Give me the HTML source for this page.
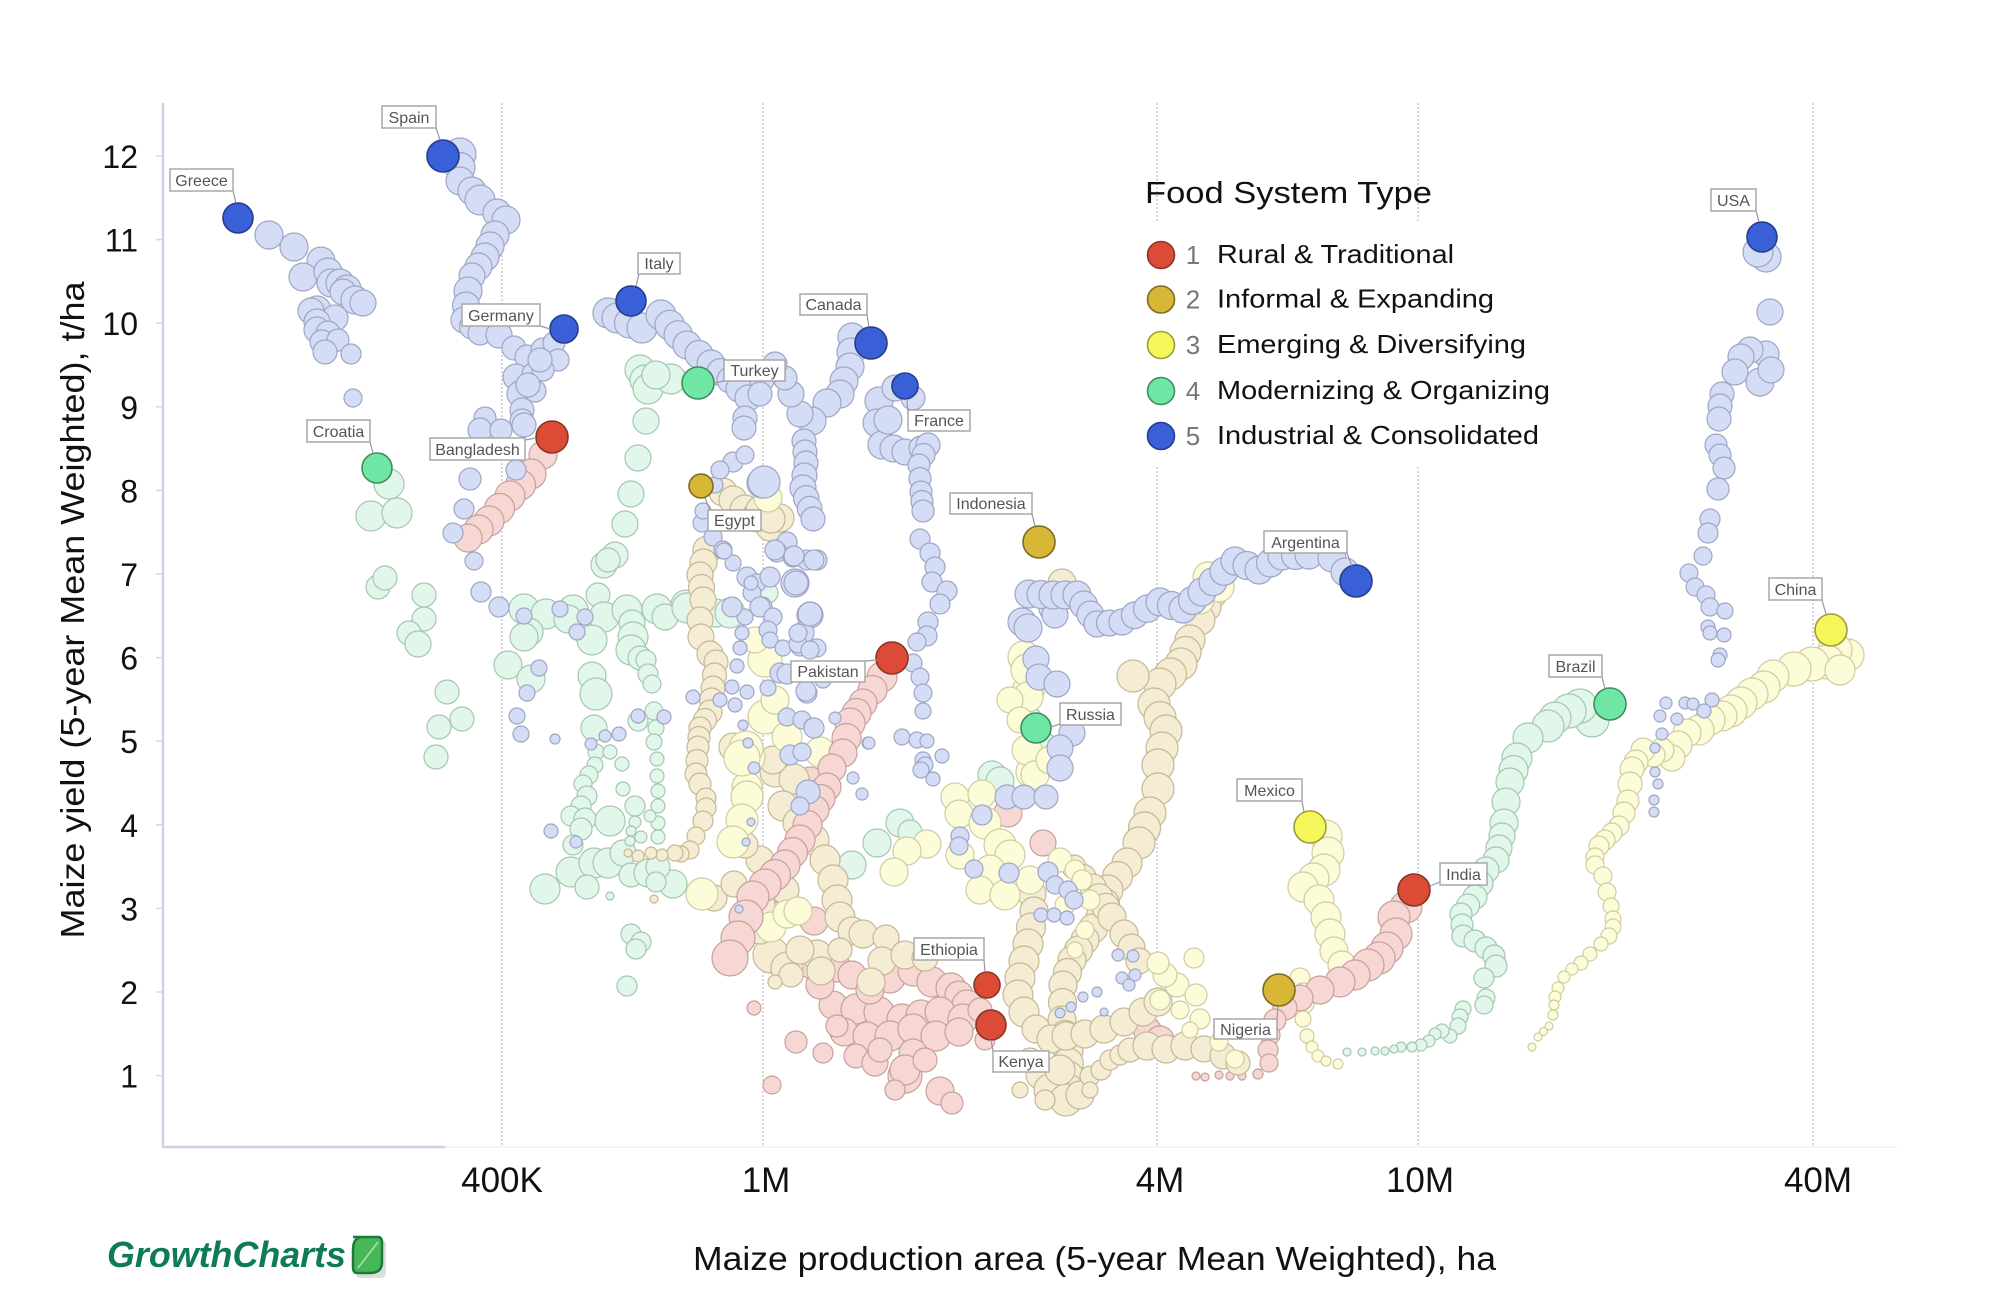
<!DOCTYPE html>
<html><head><meta charset="utf-8">
<style>
html,body{margin:0;padding:0;background:#fff;}
svg{display:block;}
text{font-family:"Liberation Sans",Arial,sans-serif;}
</style></head>
<body>
<svg id="c" width="2000" height="1302" viewBox="0 0 2000 1302" xmlns="http://www.w3.org/2000/svg">
<rect width="2000" height="1302" fill="#fff"/>
<g stroke="#c4c4c4" stroke-width="1.3" stroke-dasharray="2,2">
<line x1="502" y1="103" x2="502" y2="1147"/>
<line x1="763" y1="103" x2="763" y2="1147"/>
<line x1="1157" y1="103" x2="1157" y2="1147"/>
<line x1="1418" y1="103" x2="1418" y2="1147"/>
<line x1="1813" y1="103" x2="1813" y2="1147"/>
</g>
<rect x="1140" y="222" width="430" height="243" fill="#fff"/>
<line x1="163" y1="1147" x2="1897" y2="1147" stroke="#f1f1f5" stroke-width="1.5"/>
<line x1="163" y1="1147" x2="445" y2="1147" stroke="#cfd2e4" stroke-width="2.5"/>
<line x1="163" y1="103" x2="163" y2="1148" stroke="#cfd2e4" stroke-width="2.5"/>
<g stroke="#d3d6e4" stroke-width="1.5">
<line x1="156" y1="156" x2="163" y2="156"/><line x1="156" y1="239.6" x2="163" y2="239.6"/>
<line x1="156" y1="323.2" x2="163" y2="323.2"/><line x1="156" y1="406.8" x2="163" y2="406.8"/>
<line x1="156" y1="490.4" x2="163" y2="490.4"/><line x1="156" y1="574" x2="163" y2="574"/>
<line x1="156" y1="657.6" x2="163" y2="657.6"/><line x1="156" y1="741.2" x2="163" y2="741.2"/>
<line x1="156" y1="824.8" x2="163" y2="824.8"/><line x1="156" y1="908.4" x2="163" y2="908.4"/>
<line x1="156" y1="992" x2="163" y2="992"/><line x1="156" y1="1075.6" x2="163" y2="1075.6"/>
</g>
<g font-size="32" fill="#111" text-anchor="end">
<text x="138" y="168">12</text><text x="138" y="251.6">11</text><text x="138" y="335.2">10</text>
<text x="138" y="418.8">9</text><text x="138" y="502.4">8</text><text x="138" y="586">7</text>
<text x="138" y="669.6">6</text><text x="138" y="753.2">5</text><text x="138" y="836.8">4</text>
<text x="138" y="920.4">3</text><text x="138" y="1004">2</text><text x="138" y="1087.6">1</text>
</g>
<g font-size="35" fill="#111" text-anchor="middle">
<text x="502" y="1192">400K</text><text x="766" y="1192">1M</text><text x="1160" y="1192">4M</text>
<text x="1420" y="1192">10M</text><text x="1818" y="1192">40M</text>
</g>
<text transform="translate(84,610) rotate(-90)" text-anchor="middle" font-size="33" fill="#111" textLength="657" lengthAdjust="spacingAndGlyphs">Maize yield (5-year Mean Weighted), t/ha</text>
<text x="693" y="1270" font-size="33" fill="#111" textLength="803" lengthAdjust="spacingAndGlyphs">Maize production area (5-year Mean Weighted), ha</text>
<text x="107" y="1267" font-size="36" font-weight="bold" font-style="italic" fill="#0e7a56" textLength="239" lengthAdjust="spacingAndGlyphs">GrowthCharts</text>
<path d="M356 1240 L382 1240 Q386 1240 386 1246 L386 1272 Q386 1278 380 1278 L360 1278 Q356 1278 356 1272 Z" fill="#bbb" opacity="0.5"/>
<path d="M353 1237 L378 1237 Q382 1237 382 1243 L382 1262 Q382 1273 370 1273 L357 1273 Q353 1273 353 1267 L353 1250 Q353 1237 363 1237 Z" fill="#46b85a" stroke="#1f7a3a" stroke-width="2.5"/>
<line x1="358" y1="1268" x2="378" y2="1242" stroke="#a8e2b0" stroke-width="1.5"/>

<g id="bub"></g>

<g id="hl" stroke-width="1.6">
<circle cx="238" cy="218" r="15" fill="#3a60d8" stroke="#243d8c"/>
<circle cx="443" cy="156" r="16" fill="#3a60d8" stroke="#243d8c"/>
<circle cx="631" cy="301" r="15" fill="#3a60d8" stroke="#243d8c"/>
<circle cx="564" cy="329" r="14" fill="#3a60d8" stroke="#243d8c"/>
<circle cx="871" cy="343" r="16" fill="#3a60d8" stroke="#243d8c"/>
<circle cx="905" cy="386" r="13" fill="#3a60d8" stroke="#243d8c"/>
<circle cx="1356" cy="581" r="16" fill="#3a60d8" stroke="#243d8c"/>
<circle cx="1762" cy="237" r="15" fill="#3a60d8" stroke="#243d8c"/>
<circle cx="552" cy="437" r="16" fill="#db4b36" stroke="#8a3426"/>
<circle cx="892" cy="658" r="16" fill="#db4b36" stroke="#8a3426"/>
<circle cx="1414" cy="890" r="16" fill="#db4b36" stroke="#8a3426"/>
<circle cx="987" cy="985" r="13" fill="#db4b36" stroke="#8a3426"/>
<circle cx="991" cy="1025" r="15" fill="#db4b36" stroke="#8a3426"/>
<circle cx="377" cy="468" r="15" fill="#6ee7a4" stroke="#3f8d62"/>
<circle cx="698" cy="383" r="16" fill="#6ee7a4" stroke="#3f8d62"/>
<circle cx="1610" cy="704" r="16" fill="#6ee7a4" stroke="#3f8d62"/>
<circle cx="1036" cy="728" r="15" fill="#6ee7a4" stroke="#3f8d62"/>
<circle cx="701" cy="486" r="12" fill="#d8b636" stroke="#7e6a24"/>
<circle cx="1039" cy="542" r="16" fill="#d8b636" stroke="#7e6a24"/>
<circle cx="1279" cy="990" r="16" fill="#d8b636" stroke="#7e6a24"/>
<circle cx="1310" cy="827" r="16" fill="#f4f65a" stroke="#9c9c3c"/>
<circle cx="1831" cy="630" r="16" fill="#f4f65a" stroke="#9c9c3c"/>
</g>

<g id="labels" font-size="16" fill="#555" text-anchor="middle">
<g stroke="#999" stroke-width="1.2">
<line x1="233" y1="191" x2="236" y2="203"/><line x1="436" y1="128" x2="440" y2="140"/>
<line x1="639" y1="274" x2="636" y2="286"/><line x1="540" y1="326" x2="550" y2="329"/>
<line x1="867" y1="315" x2="869" y2="327"/><line x1="908" y1="415" x2="907" y2="399"/>
<line x1="724" y1="381" x2="714" y2="383"/><line x1="370" y1="442" x2="373" y2="453"/>
<line x1="525" y1="440" x2="536" y2="438"/><line x1="710" y1="510" x2="705" y2="498"/>
<line x1="1032" y1="514" x2="1035" y2="526"/><line x1="1347" y1="553" x2="1352" y2="566"/>
<line x1="1756" y1="211" x2="1759" y2="222"/><line x1="1822" y1="600" x2="1826" y2="614"/>
<line x1="1602" y1="677" x2="1605" y2="689"/><line x1="1440" y1="882" x2="1430" y2="886"/>
<line x1="1302" y1="801" x2="1304" y2="812"/><line x1="1277" y1="1019" x2="1278" y2="1006"/>
<line x1="993" y1="1051" x2="991" y2="1040"/><line x1="984" y1="960" x2="985" y2="972"/>
<line x1="865" y1="661" x2="877" y2="660"/><line x1="1060" y1="724" x2="1051" y2="727"/>
</g>
<g fill="#fff" stroke="#a8a8a8" stroke-width="1.5">
<rect x="170" y="169" width="63" height="22"/><rect x="382" y="106" width="54" height="22"/>
<rect x="638" y="253" width="42" height="21"/><rect x="462" y="304" width="78" height="22"/>
<rect x="800" y="294" width="67" height="21"/><rect x="908" y="410" width="62" height="21"/>
<rect x="724" y="360" width="61" height="21"/><rect x="307" y="420" width="63" height="22"/>
<rect x="430" y="438" width="95" height="22"/><rect x="708" y="510" width="53" height="21"/>
<rect x="950" y="493" width="82" height="21"/><rect x="1264" y="531" width="83" height="22"/>
<rect x="1711" y="189" width="45" height="22"/><rect x="1769" y="578" width="53" height="22"/>
<rect x="1549" y="655" width="53" height="22"/><rect x="1440" y="863" width="47" height="22"/>
<rect x="1237" y="779" width="65" height="22"/><rect x="1214" y="1019" width="63" height="20"/>
<rect x="993" y="1051" width="56" height="21"/><rect x="914" y="938" width="70" height="22"/>
<rect x="791" y="661" width="74" height="21"/><rect x="1060" y="703" width="61" height="22"/>
</g>
<text x="201.5" y="186">Greece</text><text x="409" y="123">Spain</text>
<text x="659" y="269">Italy</text><text x="501" y="321">Germany</text>
<text x="833.5" y="310">Canada</text><text x="939" y="426">France</text>
<text x="754.5" y="376">Turkey</text><text x="338.5" y="437">Croatia</text>
<text x="477.5" y="455">Bangladesh</text><text x="734.5" y="526">Egypt</text>
<text x="991" y="509">Indonesia</text><text x="1305.5" y="548">Argentina</text>
<text x="1733.5" y="206">USA</text><text x="1795.5" y="595">China</text>
<text x="1575.5" y="672">Brazil</text><text x="1463.5" y="880">India</text>
<text x="1269.5" y="796">Mexico</text><text x="1245.5" y="1035">Nigeria</text>
<text x="1021" y="1067">Kenya</text><text x="949" y="955">Ethiopia</text>
<text x="828" y="677">Pakistan</text><text x="1090.5" y="720">Russia</text>
</g>

<text x="1145" y="203" font-size="31" fill="#111" textLength="287" lengthAdjust="spacingAndGlyphs">Food System Type</text>
<g stroke-width="1.6">
<circle cx="1161" cy="255" r="13.5" fill="#db4b36" stroke="#8a3426"/>
<circle cx="1161" cy="299.5" r="13.5" fill="#d8b636" stroke="#7e6a24"/>
<circle cx="1161" cy="345" r="13.5" fill="#f4f65a" stroke="#9c9c3c"/>
<circle cx="1161" cy="391" r="13.5" fill="#6ee7a4" stroke="#3f8d62"/>
<circle cx="1161" cy="436" r="13.5" fill="#3a60d8" stroke="#243d8c"/>
</g>
<g font-size="26" fill="#777" text-anchor="middle">
<text x="1193" y="264">1</text><text x="1193" y="308.5">2</text><text x="1193" y="354">3</text>
<text x="1193" y="400">4</text><text x="1193" y="445">5</text>
</g>
<g font-size="26" fill="#111">
<text x="1217" y="263" textLength="237" lengthAdjust="spacingAndGlyphs">Rural &amp; Traditional</text>
<text x="1217" y="307.5" textLength="277" lengthAdjust="spacingAndGlyphs">Informal &amp; Expanding</text>
<text x="1217" y="353" textLength="309" lengthAdjust="spacingAndGlyphs">Emerging &amp; Diversifying</text>
<text x="1217" y="399" textLength="333" lengthAdjust="spacingAndGlyphs">Modernizing &amp; Organizing</text>
<text x="1217" y="444" textLength="322" lengthAdjust="spacingAndGlyphs">Industrial &amp; Consolidated</text>
</g>
</svg>
<script>
(function(){
var C={b:['#d5dcf5','#9ea6c4'],m:['#e0f7ea','#a6c6b2'],r:['#f6d7d3','#c6a19c'],g:['#f5ecd4','#c6b896'],y:['#fdfcd9','#cfcca2']};
function chain(pts){var out=[];for(var i=0;i<pts.length;i++){var p=pts[i];if(i>0){var q=pts[i-1];var dx=p[0]-q[0],dy=p[1]-q[1];var d=Math.sqrt(dx*dx+dy*dy);var rr=Math.min(p[2],q[2]);var st=rr<10?rr*1.5:rr*0.85;var n=Math.floor(d/st);for(var k=1;k<n;k++){var t=k/n;out.push([q[0]+dx*t,q[1]+dy*t,q[2]+(p[2]-q[2])*t]);}}out.push(p);}return out;}
var T=[
['m','s',[[389,484,15],[371,516,15],[397,513,15],[378,587,12],[385,578,12],[424,595,12],[424,619,12],[409,633,12],[418,644,13],[447,692,12],[462,719,12],[439,727,12],[436,757,12]]],
['m','s',[[640,370,15],[645,380,15],[648,389,15],[671,379,15],[656,375,14],[646,421,13],[638,458,13],[631,494,13],[625,524,13],[615,555,13],[604,565,13],[608,560,12],[598,595,12]]],
['m','s',[[524,609,15],[546,614,15],[573,610,15],[604,617,15],[627,610,15],[657,609,15],[686,605,15],[716,613,14],[529,632,14],[568,619,14],[632,623,13],[665,617,13],[592,640,15],[633,637,15],[631,650,15],[640,658,12],[646,660,10],[648,674,10],[652,684,9],[508,665,14],[531,679,14],[524,637,14]]],
['m','s',[[592,676,14],[596,694,16],[594,728,13],[596,752,8],[595,765,8],[589,775,9],[583,784,9],[587,796,10],[581,806,10],[571,816,10],[585,819,11],[610,821,15],[581,829,11],[573,845,10],[571,872,15],[594,863,15],[608,863,15],[623,853,13],[587,887,12],[545,889,15],[631,875,12],[648,873,14],[673,884,14],[658,867,12],[656,882,10],[610,896,4],[654,711,9],[656,728,8],[654,742,8],[657,759,7],[657,776,7],[658,791,7],[658,806,7],[658,823,7],[658,837,7],[650,816,6],[635,806,10],[635,822,6],[631,831,5],[641,837,6],[630,841,5],[623,789,7],[622,764,7],[610,752,7],[638,721,10],[631,934,10],[641,942,10],[636,949,10],[627,986,10]]],
['m','s',[[730,613,15],[687,608,15],[768,593,10],[992,775,14],[900,823,14],[877,843,14],[852,865,14],[910,832,12],[1028,720,14],[1045,745,12],[1000,781,14]]],
['m','c',[[1592,720,17],[1580,706,17],[1569,711,17],[1555,718,16],[1548,726,16],[1528,738,15],[1517,758,15],[1510,782,14],[1506,802,14],[1504,823,14],[1502,836,13],[1496,860,13],[1486,870,13],[1475,897,12],[1461,914,11],[1463,936,11],[1475,941,11],[1486,948,11],[1494,956,11],[1496,966,11],[1484,978,10],[1486,998,9],[1484,1005,9]]],
['m','s',[[1463,1009,8],[1460,1017,8],[1458,1026,8],[1450,1036,7],[1442,1031,7],[1435,1034,6],[1429,1041,6],[1421,1045,6],[1412,1047,5],[1401,1047,5],[1394,1049,4],[1385,1051,4],[1375,1051,4],[1362,1052,4],[1347,1052,4]]],
['r','s',[[837,968,14],[852,975,14],[890,978,15],[913,971,15],[932,982,15],[951,988,15],[959,995,14],[967,1005,15],[833,1005,14],[856,1009,15],[879,1012,15],[902,1019,15],[921,1015,15],[940,1012,15],[963,1019,15],[844,1032,14],[867,1036,14],[890,1036,15],[913,1029,15],[936,1036,15],[959,1032,14],[856,1056,12],[875,1063,13],[913,1053,14],[905,1076,17],[905,1070,15],[940,1091,14],[823,1053,10],[796,1042,11],[837,1026,11],[880,1050,12],[895,1090,10],[925,1060,12],[980,1010,12],[985,1040,10],[870,990,14],[820,985,14],[810,965,13],[790,960,12],[771,890,14],[775,917,15],[814,921,14],[810,782,15]]],
['r','s',[[1196,1076,4],[1205,1077,4],[1219,1075,4],[1230,1076,4],[1242,1076,4],[1258,1074,5],[754,1008,7],[772,1085,9],[952,1103,11],[1008,813,14],[1043,843,13],[1148,1032,14],[1160,1040,14]]],
['g','s',[[723,492,14],[733,500,14],[745,510,15],[757,517,15],[770,527,14],[780,518,14],[760,510,14],[771,519,14]]],
['g','c',[[707,550,14],[700,575,13],[703,600,13],[700,620,13],[701,637,13],[710,654,13],[716,662,12],[713,688,12],[710,712,12],[700,728,11],[698,747,11],[696,774,11],[700,784,11],[706,798,10],[706,808,10],[703,821,10],[696,836,9],[690,850,9],[681,854,8],[675,853,8],[662,855,6],[651,853,6],[638,856,6],[628,853,4]]],
['g','s',[[654,899,4],[775,772,15],[794,779,15],[783,806,15],[798,823,15],[814,840,15],[825,860,15],[833,880,15],[837,900,15],[840,917,15],[852,931,14],[863,934,14],[886,938,13],[771,955,18],[787,968,16],[817,955,15],[821,971,14],[791,975,12],[775,982,7],[882,961,14],[905,955,14],[925,958,13],[871,982,14],[733,747,14],[773,760,14],[714,898,13],[734,884,13],[760,860,14],[745,845,13],[760,905,15],[785,890,14],[800,950,14],[840,950,12],[760,930,14]]],
['g','c',[[1213,594,14],[1200,620,15],[1190,640,15],[1181,664,16],[1160,684,16],[1154,704,16],[1166,731,16],[1158,765,16],[1158,789,16],[1150,813,16],[1139,843,16],[1127,863,15],[1108,890,15],[1101,917,15],[1085,940,14],[1072,960,14],[1063,985,14],[1062,1020,14],[1068,1050,15],[1068,1090,16]]],
['g','c',[[1032,894,14],[1034,911,14],[1028,944,15],[1020,978,15],[1018,995,15],[1024,1012,15],[1036,1029,14],[1051,1039,14],[1066,1036,14],[1085,1034,14],[1104,1029,14],[1124,1022,14],[1143,1012,14],[1158,1002,14]]],
['g','c',[[1074,867,12],[1093,887,13],[1112,917,14],[1124,934,14],[1139,961,13]]],
['g','s',[[1040,1075,14],[1050,1090,16],[1066,1100,16],[1080,1095,14],[1030,1060,12],[1020,1090,8],[1090,1076,10],[1101,1070,10],[1110,1060,10],[1120,1055,10],[1130,1050,12],[1147,1046,14],[1166,1049,14],[1185,1046,14],[1204,1049,13],[1223,1056,13],[1238,1063,12],[1062,583,14],[1133,676,16],[1060,1070,15],[1045,1100,10],[1090,1090,8]]],
['y','c',[[1326,836,16],[1328,853,16],[1324,870,16],[1303,887,15],[1319,900,15],[1326,917,15],[1330,934,15],[1334,951,14],[1342,965,14]]],
['y','s',[[1300,978,10],[1303,992,9],[1305,1004,9],[1303,1019,8],[1307,1036,7],[1312,1047,6],[1318,1056,6],[1326,1061,5],[1338,1064,5]]],
['y','c',[[1848,655,16],[1835,650,17],[1827,662,17],[1812,664,17],[1794,669,17],[1773,676,16],[1764,687,16],[1752,694,16],[1741,703,16],[1731,711,16],[1722,716,15],[1710,720,15],[1699,730,15],[1687,733,14],[1678,745,14],[1672,758,13],[1662,750,12],[1653,755,12],[1643,750,12],[1636,762,12],[1632,769,12],[1630,784,12],[1628,801,11],[1624,813,11],[1619,826,10],[1605,840,10],[1599,846,10],[1595,857,9],[1595,865,9],[1603,876,9],[1607,892,9],[1611,906,8],[1613,919,8],[1613,927,8],[1609,936,8],[1601,944,7],[1590,954,7],[1581,963,7],[1572,969,6],[1564,977,6],[1558,988,6],[1555,997,6],[1554,1005,5],[1553,1015,5],[1549,1026,4],[1538,1037,4],[1532,1047,4]]],
['y','s',[[1840,670,15],[1024,657,16],[1028,691,16],[1027,670,16],[1028,697,15],[1032,772,16],[1027,750,15],[1035,775,14],[955,797,14],[982,794,14],[959,814,14],[927,844,14],[907,851,14],[894,872,14],[1050,760,14],[1010,700,13],[1020,720,13],[765,660,17],[765,717,17],[747,757,18],[787,737,15],[820,752,15],[747,787,15],[746,748,17],[742,758,18],[747,797,16],[742,820,16],[733,842,16],[702,894,16],[771,927,15],[787,914,14],[798,911,14],[985,823,16],[1000,845,16],[1010,855,15],[990,870,15],[980,890,14],[1005,895,15],[1030,880,14],[1060,860,12],[1075,870,10],[1082,880,10],[1090,900,10],[1065,905,10],[1085,930,9],[1075,950,8],[960,855,14],[1177,985,12],[1196,995,11],[1200,1019,10],[1219,1042,9],[1235,1059,9],[1165,975,12],[1160,1000,10],[1180,1010,9],[1190,1030,8],[1208,577,15],[1219,587,15],[1200,600,14],[1194,958,10],[1158,963,11],[768,498,14],[755,640,13],[775,700,14]]],
['r','c',[[543,455,14],[531,474,15],[510,496,15],[489,521,15],[468,538,14]]],
['r','c',[[882,677,15],[863,703,14],[850,723,15],[843,753,14],[832,768,14],[827,787,14],[815,810,14],[800,840,15],[785,865,15],[765,885,16],[753,897,16],[746,917,17],[738,938,17],[730,958,18]]],
['r','c',[[1406,907,16],[1394,917,16],[1396,934,16],[1387,948,16],[1379,958,16],[1368,965,16],[1355,975,15],[1340,982,15],[1320,990,14],[1300,998,13],[1285,1008,12],[1275,1020,11],[1270,1035,10],[1268,1050,10],[1269,1063,9]]],
['b','s',[[269,235,14],[294,247,14],[321,261,14],[303,277,14],[328,272,14],[331,283,14],[340,283,14],[347,289,14],[343,292,13],[355,300,14],[363,303,13],[317,310,14],[311,311,13],[335,318,13],[317,322,13],[317,330,13],[328,333,12],[322,342,12],[338,340,11],[325,352,12],[351,354,10],[353,398,9]]],
['b','c',[[460,154,16],[460,181,14],[472,191,14],[480,200,15],[497,213,14],[506,220,14],[495,235,14],[485,257,14],[472,276,13],[468,291,14],[464,320,13],[480,333,12],[499,335,13],[514,348,12],[527,357,12],[543,350,12],[554,343,11]]],
['b','s',[[558,360,11],[516,377,13],[533,374,11],[543,370,11],[520,394,13],[535,391,11],[522,410,12],[522,421,12],[485,418,11],[480,430,12],[501,430,11],[524,425,12],[540,360,12],[528,385,12],[516,470,10],[470,479,11],[464,509,10],[453,533,10],[474,561,9],[481,592,10],[499,607,10],[524,616,8],[560,609,8],[585,617,8],[539,668,8],[527,693,8],[517,716,8],[521,734,8],[555,739,5],[551,831,7],[576,842,6],[638,716,7],[664,717,7],[619,734,7],[605,736,6],[591,744,6],[577,632,8]]],
['b','c',[[608,313,15],[617,318,15],[642,328,15],[661,315,15],[687,345,14],[711,364,14],[730,380,13],[748,398,13],[745,418,12],[744,428,12]]],
['b','c',[[852,337,14],[850,367,14],[844,381,14],[840,394,14],[827,403,14],[812,421,14],[800,414,13],[791,394,13],[785,378,12],[775,364,12],[762,380,12],[760,394,12]]],
['b','c',[[804,441,12],[806,463,12],[803,488,13],[813,519,12]]],
['b','c',[[879,401,14],[877,423,14],[882,445,14],[905,452,13],[921,448,12],[928,445,12],[919,465,11],[921,492,11],[923,511,11]]],
['b','s',[[895,388,13],[913,398,12],[888,420,14],[920,539,10],[930,553,10],[935,567,10],[932,582,10],[947,591,10],[940,604,10],[928,622,10],[927,636,10],[917,642,9],[913,663,9],[920,677,9],[923,693,9],[923,711,8],[902,737,8],[917,740,8],[927,741,7],[942,756,7],[923,760,8],[925,765,8],[921,770,8],[933,779,7],[868,743,6],[862,794,6],[869,743,6]]],
['b','s',[[733,462,10],[762,483,15],[702,523,9],[713,537,9],[723,550,9],[733,563,8],[747,577,10],[757,583,9],[752,593,9],[762,607,10],[745,617,8],[742,633,7],[740,648,7],[737,666,7],[732,687,7],[720,700,7],[735,705,7],[693,697,7],[747,692,7],[743,725,5],[748,743,5],[787,542,10],[777,552,10],[793,557,10],[807,560,10],[817,560,10],[795,583,14],[770,577,10],[760,607,10],[773,617,9],[810,615,13],[803,633,11],[768,630,9],[770,640,8],[783,648,8],[800,647,9],[817,648,9],[780,673,10],[768,688,8],[807,693,10],[823,680,8],[787,717,9],[802,720,9],[813,727,9],[835,718,6],[790,755,10],[802,752,9],[807,790,9],[853,778,6],[798,644,9],[810,650,9],[787,674,10],[806,691,10],[814,728,10],[808,792,12],[800,806,9],[798,633,9],[715,485,8],[703,511,8],[724,551,8],[751,583,7],[775,550,10],[794,556,10],[814,560,10],[796,583,12],[810,614,12],[754,768,6],[751,822,4],[746,842,4],[739,909,4],[732,607,10],[764,482,16],[720,470,9],[745,455,9]]],
['b','s',[[1036,659,13],[1039,677,13],[1057,684,13],[1072,733,13],[1060,748,13],[1060,768,13],[1007,797,12],[1024,797,12],[1046,797,12],[982,815,10],[960,836,9],[959,846,9],[974,869,9],[1009,873,10],[1048,872,10],[1055,885,9],[1068,890,9],[1074,900,9],[1041,915,7],[1054,915,7],[1067,918,7],[1118,955,6],[1133,956,6],[1135,975,6],[1122,978,6],[1129,985,6],[1083,997,5],[1071,1007,5],[1060,1013,5],[1097,992,5],[1104,1012,4],[1053,608,14],[1022,622,14],[1028,628,14],[1055,615,13]]],
['b','c',[[1029,594,14],[1053,595,14],[1077,595,14],[1097,624,13],[1122,622,13],[1160,602,14],[1183,609,14],[1202,592,14],[1235,561,14],[1259,570,14],[1282,556,14],[1309,555,14],[1332,558,14],[1345,572,14]]],
['b','s',[[1766,257,15],[1758,252,15],[1770,312,13],[1766,354,13],[1750,350,13],[1741,357,13],[1735,372,13],[1760,382,14],[1771,370,13],[1722,394,12],[1720,406,12],[1719,419,12],[1716,445,11],[1720,455,11],[1724,468,11],[1718,489,11],[1710,519,10],[1708,533,10],[1703,556,9],[1689,573,9],[1695,587,9],[1706,595,9],[1710,607,9],[1725,611,8],[1708,627,7],[1710,633,7],[1724,635,7],[1720,655,7],[1718,660,7],[1666,703,6],[1685,703,6],[1693,704,6],[1712,700,7],[1704,711,7],[1660,716,6],[1677,719,6],[1662,734,6],[1655,748,5],[1655,772,5],[1658,784,5],[1654,800,5],[1654,812,5]]]
];
var g=document.getElementById('bub');var h='';
for(var i=0;i<T.length;i++){var t=T[i];var col=C[t[0]];var pts=t[1]==='c'?chain(t[2]):t[2];
for(var j=0;j<pts.length;j++){var p=pts[j];
h+='<circle cx="'+p[0].toFixed(1)+'" cy="'+p[1].toFixed(1)+'" r="'+p[2].toFixed(1)+'" fill="'+col[0]+'" stroke="'+col[1]+'" stroke-width="1.2"/>';}}
g.innerHTML=h;
})();
</script>
</body></html>
